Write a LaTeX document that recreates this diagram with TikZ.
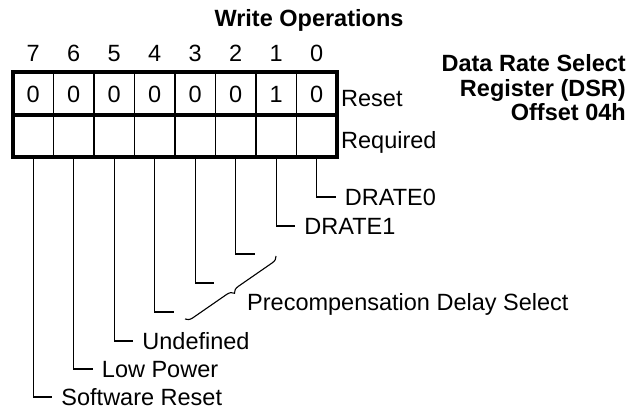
\documentclass[tikz,border=0pt]{standalone}
\usepackage{fontspec}
\setmainfont{Liberation Sans}
\usetikzlibrary{decorations.pathreplacing}

\begin{document}
\begin{tikzpicture}[x=1pt,y=-1pt,
    txt/.style={inner sep=0pt, text height=17pt, text depth=0pt, font=\fontsize{23.5}{25}\selectfont},
    lbl/.style={txt, anchor=west},
    regline/.style={line width=1.2pt},
    regframe/.style={line width=3.5pt},
    stub/.style={line width=1.1pt}]
  \useasboundingbox (0,0) rectangle (638,411);
  % heading and register name
  \node[txt, font=\fontsize{23.5}{25}\selectfont\bfseries] (title) at (309,18) {Write Operations};
  \node[font=\fontsize{23.5}{24.5}\selectfont\bfseries, align=right, anchor=north east, inner sep=0pt] (dsr) at (626,54.5) {Data Rate Select\\Register (DSR)\\Offset 04h};
  % bit numbers and reset values
  \foreach \b/\v in {7/0,6/0,5/0,4/0,3/0,2/0,1/1,0/0} {
    \pgfmathsetmacro\cx{33.25+40.5*(7-\b)}
    \node[txt] (num\b) at (\cx,53) {\b};
    \node[txt] (rst\b) at (\cx,94) {\v};
    \coordinate (pin\b) at (\cx,157);
  }
  \foreach \k in {1,...,7}
    \draw[regline] ({13+40.5*\k},72) -- ({13+40.5*\k},157);
  \draw[regframe] (13,72) rectangle (337,157);
  \draw[regframe] (13,115) -- (337,115);
  \node[lbl] (reset) at (341,98) {Reset};
  \node[lbl] (req) at (341,140) {Required};
  % bit fields
  \foreach \b/\y/\name/\txt in {0/197/drate0/DRATE0, 1/226/drate1/DRATE1, 5/341/undef/Undefined, 6/369/lowpow/Low Power, 7/397/swreset/Software Reset} {
    \node[lbl, xshift=28pt] (\name) at (pin\b |- 0,\y) {\txt};
    \draw[stub] (pin\b) |- ([xshift=-9pt]\name.west);
  }
  \foreach \b/\y in {2/254,3/283,4/312} {
    \coordinate[xshift=19pt] (end\b) at (pin\b |- 0,\y);
    \draw[stub] (pin\b) |- (end\b);
  }
  \coordinate (brtop) at (276,256);
  \coordinate (brbot) at (185,319);
  \draw[stub, decorate, decoration={brace, amplitude=7pt}] (brtop) -- (brbot);
  \node[lbl] (precomp) at (247,302) {Precompensation Delay Select};
\end{tikzpicture}
\end{document}
